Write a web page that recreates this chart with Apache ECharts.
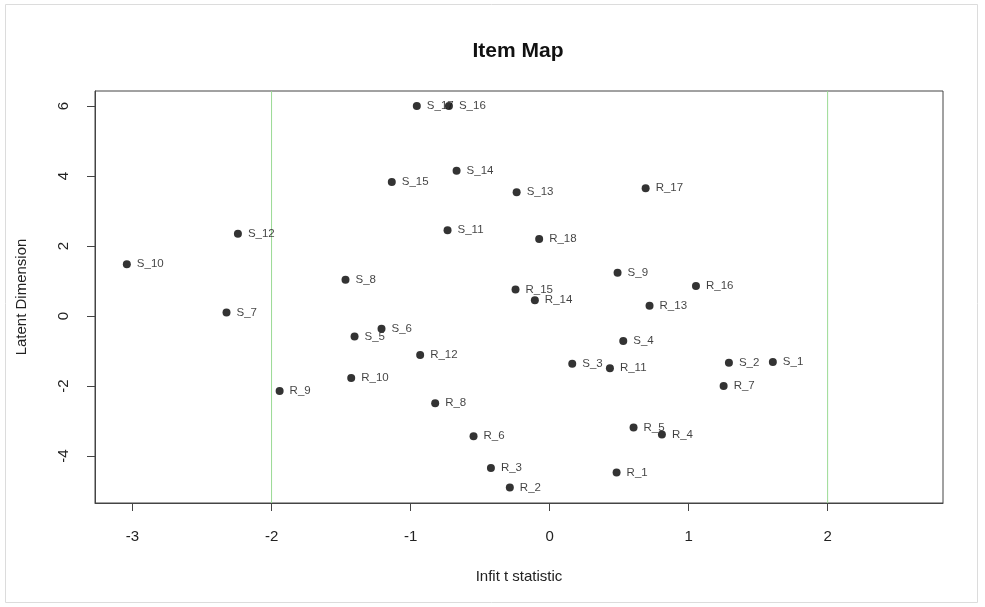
<!DOCTYPE html>
<html>
<head>
<meta charset="utf-8">
<script src="https://cdn.jsdelivr.net/npm/echarts@6/dist/echarts.min.js"></script>
<style>html,body{margin:0;padding:0;background:#fff}#c{width:985px;height:607px}</style>
</head>
<body>
<div id="c"></div>
<script>
const itemNames = ['S_17','S_16','S_14','S_15','S_13','S_11','S_12','S_10','S_8','R_15',
  'R_17','R_18','S_9','R_16','S_7','R_14','S_6','S_5','R_12','R_10',
  'R_9','R_8','R_6','R_3','R_2','R_13','S_4','S_3','R_11','S_2',
  'S_1','R_7','R_5','R_4','R_1'];
const infitT = [-0.955,-0.724,-0.669,-1.135,-0.237,-0.734,-2.242,-3.041,-1.468,-0.245,
  0.691,-0.075,0.489,1.053,-2.324,-0.106,-1.209,-1.403,-0.931,-1.427,
  -1.942,-0.823,-0.547,-0.422,-0.286,0.719,0.530,0.163,0.434,1.290,
  1.606,1.252,0.604,0.808,0.482];
const latentDim = [6.00,6.00,4.15,3.83,3.54,2.45,2.35,1.48,1.04,0.76,
  3.65,2.20,1.24,0.86,0.105,0.45,-0.36,-0.58,-1.11,-1.77,
  -2.14,-2.49,-3.43,-4.34,-4.90,0.295,-0.714,-1.36,-1.49,-1.33,
  -1.31,-2.00,-3.18,-3.38,-4.47];
const xTicks = [-3,-2,-1,0,1,2];
const yTicks = [-4,-2,0,2,4,6];
const refLines = [-2,2];
const yMin = -5.34, yMax = 6.43;

const points = itemNames.map((n,i)=>[infitT[i], latentDim[i], n]);
const font = 'Liberation Sans, Arial, sans-serif';
const refSeries = refLines.map(v=>({
  type:'line', data:[[v,yMin],[v,yMax]], symbol:'none', silent:true, z:1,
  lineStyle:{color:'#9ada94', width:1}, itemStyle:{color:'#9ada94'}
}));
const chart = echarts.init(document.getElementById('c'), null, {renderer:'canvas'});
chart.setOption({
  animation:false,
  backgroundColor:'#fff',
  title:{text:'Item Map', left:513, top:36, textAlign:'center',
    textStyle:{fontFamily:font, fontSize:21, fontWeight:'bold', color:'#111'}},
  graphic:[{type:'rect', shape:{x:5.5,y:4.5,width:972,height:598}, style:{fill:null, stroke:'#dcdcdc', lineWidth:1}, silent:true}],
  grid:{left:95, top:91, right:42, bottom:104, show:true, borderColor:'#444', borderWidth:1, backgroundColor:'transparent'},
  xAxis:{type:'value', min:-3.27, max:2.83,
    name:'Infit t statistic', nameLocation:'middle', nameGap:66,
    nameTextStyle:{fontFamily:font, fontSize:15, color:'#222'},
    axisLine:{show:true, onZero:false, lineStyle:{color:'#444'}},
    splitLine:{show:false},
    axisTick:{show:true, length:8, lineStyle:{color:'#444'}, customValues:xTicks},
    axisLabel:{fontFamily:font, fontSize:15, color:'#222', margin:26, customValues:xTicks, showMinLabel:true, showMaxLabel:true}},
  yAxis:{type:'value', min:yMin, max:yMax,
    name:'Latent Dimension', nameLocation:'middle', nameGap:66, nameRotate:90,
    nameTextStyle:{fontFamily:font, fontSize:15, color:'#222'},
    axisLine:{show:true, onZero:false, lineStyle:{color:'#444'}},
    splitLine:{show:false},
    axisTick:{show:true, length:8, lineStyle:{color:'#444'}, customValues:yTicks},
    axisLabel:{fontFamily:font, fontSize:15, color:'#222', margin:24, rotate:90, customValues:yTicks}},
  series:refSeries.concat([{
    type:'scatter', data:points, symbol:'circle', symbolSize:8, z:3,
    itemStyle:{color:'#000'},
    label:{show:true, position:'right', distance:6, formatter:p=>p.data[2],
      fontFamily:font, fontSize:11.5, color:'#111'},
    labelLayout:{hideOverlap:false}
  }])
});
</script>
</body>
</html>
